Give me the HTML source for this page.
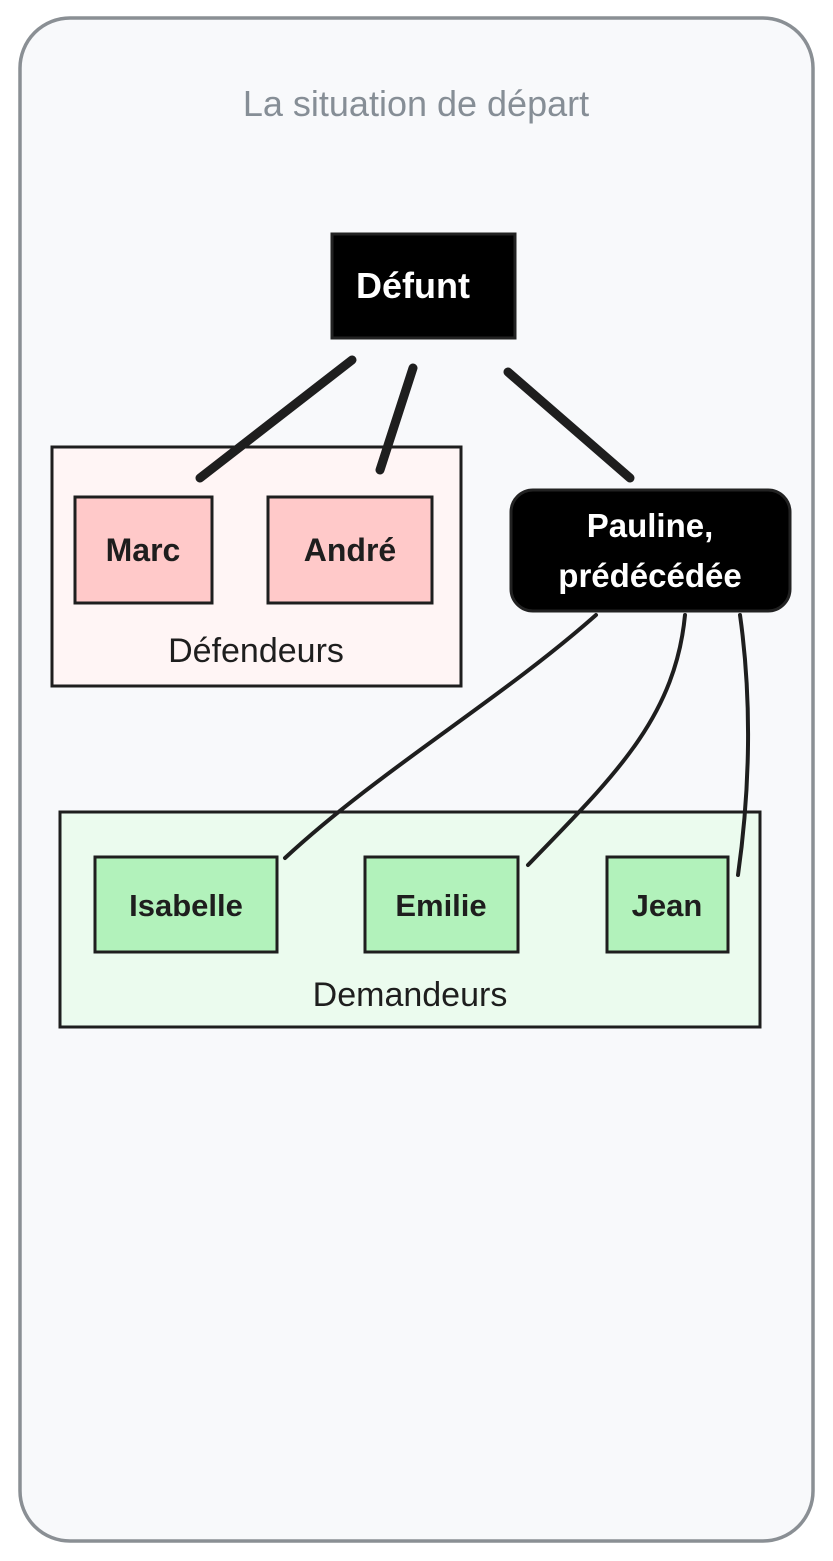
<!DOCTYPE html>
<html><head><meta charset="utf-8"><style>
html,body{margin:0;padding:0;background:#fff;}
svg{display:block;}
text{font-family:"Liberation Sans",sans-serif;}
</style></head><body>
<svg width="833" height="1561" viewBox="0 0 833 1561" xmlns="http://www.w3.org/2000/svg">
<rect x="20" y="18" width="793" height="1523" rx="50" fill="#f8f9fb" stroke="#8a8f94" stroke-width="3.5"/>
<text x="416" y="116" text-anchor="middle" font-size="36" fill="#868e96">La situation de départ</text>

<rect x="332" y="234" width="183" height="104" fill="#000" stroke="#222" stroke-width="3"/>
<text x="413" y="298" text-anchor="middle" font-size="36" font-weight="bold" fill="#fff">Défunt</text>

<rect x="52" y="447" width="409" height="239" fill="#fff5f5" stroke="#1e1e1e" stroke-width="3"/>
<rect x="75" y="497" width="137" height="106" fill="#ffc9c9" stroke="#1e1e1e" stroke-width="3"/>
<text x="143" y="561" text-anchor="middle" font-size="32" font-weight="bold" fill="#1e1e1e">Marc</text>
<rect x="268" y="497" width="164" height="106" fill="#ffc9c9" stroke="#1e1e1e" stroke-width="3"/>
<text x="350" y="561" text-anchor="middle" font-size="32" font-weight="bold" fill="#1e1e1e">André</text>
<text x="256" y="662" text-anchor="middle" font-size="34" fill="#1e1e1e">Défendeurs</text>

<rect x="511" y="490" width="279" height="121" rx="22" fill="#000" stroke="#222" stroke-width="3"/>
<text x="650" y="537" text-anchor="middle" font-size="33" font-weight="bold" fill="#fff">Pauline,</text>
<text x="650" y="587" text-anchor="middle" font-size="33" font-weight="bold" fill="#fff">prédécédée</text>

<rect x="60" y="812" width="700" height="215" fill="#ebfbee" stroke="#1e1e1e" stroke-width="3"/>
<rect x="95" y="857" width="182" height="95" fill="#b2f2bb" stroke="#1e1e1e" stroke-width="3"/>
<text x="186" y="916" text-anchor="middle" font-size="31" font-weight="bold" fill="#1e1e1e">Isabelle</text>
<rect x="365" y="857" width="153" height="95" fill="#b2f2bb" stroke="#1e1e1e" stroke-width="3"/>
<text x="441" y="916" text-anchor="middle" font-size="31" font-weight="bold" fill="#1e1e1e">Emilie</text>
<rect x="607" y="857" width="121" height="95" fill="#b2f2bb" stroke="#1e1e1e" stroke-width="3"/>
<text x="667" y="916" text-anchor="middle" font-size="31" font-weight="bold" fill="#1e1e1e">Jean</text>
<text x="410" y="1006" text-anchor="middle" font-size="34" fill="#1e1e1e">Demandeurs</text>

<g stroke="#1e1e1e" stroke-width="9" stroke-linecap="round">
<line x1="352" y1="360" x2="200" y2="478"/>
<line x1="413" y1="368" x2="380" y2="470"/>
<line x1="508" y1="372" x2="630" y2="478"/>
</g>
<g fill="none" stroke="#1e1e1e" stroke-width="4" stroke-linecap="round">
<path d="M596 615 C500 700 380 770 285 858"/>
<path d="M685 615 C675 720 610 780 528 865"/>
<path d="M740 615 C752 700 750 790 738 875"/>
</g>
</svg>
</body></html>
